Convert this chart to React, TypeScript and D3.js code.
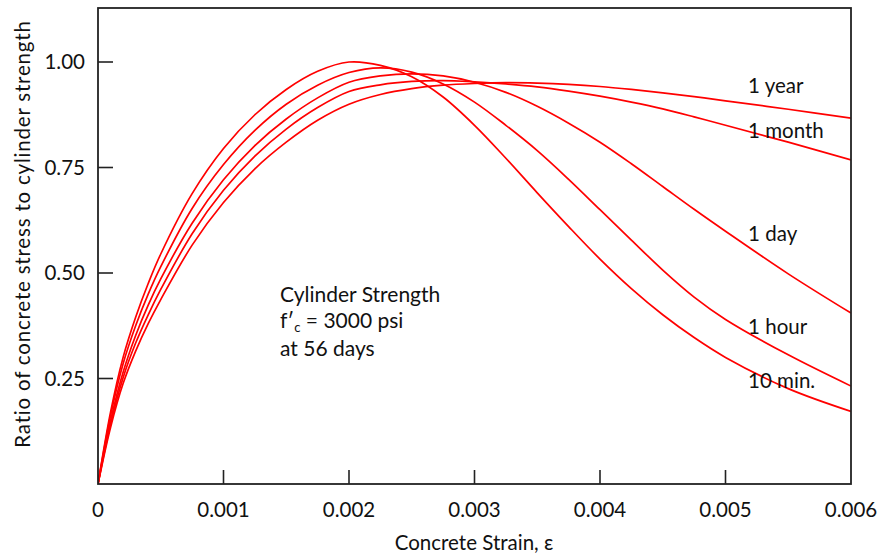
import React from "react";
import * as d3 from "d3";

// Strain values (in/in) at which each curve is sampled
const strain = [
  0, 0.0001, 0.0002, 0.0003, 0.0004, 0.0005, 0.00075, 0.001, 0.00125, 0.0015,
  0.00175, 0.002, 0.00225, 0.0025, 0.00275, 0.003, 0.00325, 0.0035, 0.00375, 0.004,
  0.00425, 0.0045, 0.00475, 0.005, 0.0055, 0.006,
];

// Stress ratio (f / f'c) for each loading duration
const tenMin = [
  0, 0.17, 0.3, 0.395, 0.475, 0.545, 0.688, 0.795, 0.875, 0.935,
  0.978, 1.0, 0.992, 0.965, 0.917, 0.85, 0.772, 0.69, 0.61, 0.533,
  0.463, 0.401, 0.347, 0.3, 0.226, 0.172,
];
const oneHour = [
  0, 0.162, 0.285, 0.375, 0.45, 0.515, 0.653, 0.757, 0.838, 0.9,
  0.945, 0.975, 0.986, 0.976, 0.948, 0.905, 0.85, 0.79, 0.722, 0.65,
  0.578, 0.507, 0.443, 0.39, 0.306, 0.232,
];
const oneDay = [
  0, 0.15, 0.265, 0.352, 0.424, 0.486, 0.618, 0.721, 0.802, 0.865,
  0.915, 0.952, 0.967, 0.972, 0.967, 0.952, 0.928, 0.895, 0.855, 0.81,
  0.759, 0.705, 0.651, 0.599, 0.498, 0.405,
];
const oneMonth = [
  0, 0.142, 0.252, 0.334, 0.401, 0.461, 0.593, 0.696, 0.777, 0.841,
  0.892, 0.93, 0.946, 0.954, 0.956, 0.953, 0.948, 0.941, 0.931, 0.919,
  0.905, 0.889, 0.87, 0.85, 0.81, 0.768,
];
const oneYear = [
  0, 0.134, 0.238, 0.315, 0.38, 0.437, 0.566, 0.667, 0.747, 0.81,
  0.862, 0.9, 0.923, 0.937, 0.945, 0.949, 0.951, 0.95, 0.947, 0.942,
  0.935, 0.927, 0.918, 0.908, 0.888, 0.867,
];

const seriesNames = ["10 min.", "1 hour", "1 day", "1 month", "1 year"];
const seriesValues = [tenMin, oneHour, oneDay, oneMonth, oneYear];

// Where each duration label sits (strain, ratio)
const labelStrain = [0.00518, 0.00518, 0.00518, 0.00518, 0.00518];
const labelRatio = [0.245, 0.372, 0.593, 0.837, 0.945];

const xTicks = [0.001, 0.002, 0.003, 0.004, 0.005];
const xTickLabels = ["0", "0.001", "0.002", "0.003", "0.004", "0.005", "0.006"];
const xLabelValues = [0, 0.001, 0.002, 0.003, 0.004, 0.005, 0.006];
const yTicks = [0.25, 0.5, 0.75, 1.0];
const yTickLabels = ["0.25", "0.50", "0.75", "1.00"];

const W = 878;
const H = 556;
const left = 98;
const right = 851;
const top = 8;
const bottom = 484;

const FONT = "Lato, 'Open Sans', sans-serif";
const FS = 20.5;

export default function App() {
  const x = d3.scaleLinear().domain([0, 0.006]).range([left, right]);
  const y = d3.scaleLinear().domain([0, 1]).range([bottom, 62]);

  const line = d3
    .line<number>()
    .x((_, i) => x(strain[i]))
    .y((d) => y(d))
    .curve(d3.curveCatmullRom.alpha(0.5));

  return (
    <svg
      width={W}
      height={H}
      viewBox={`0 0 ${W} ${H}`}
      style={{ position: "absolute", left: 0, top: 0, display: "block", background: "#fff" }}
      fontFamily={FONT}
    >
      <defs>
        <clipPath id="plotClip">
          <rect x={left} y={top} width={right - left} height={bottom - top} />
        </clipPath>
      </defs>

      {/* curves */}
      <g clipPath="url(#plotClip)">
        {seriesValues.map((vals, i) => (
          <path
            key={seriesNames[i]}
            d={line(vals) || ""}
            fill="none"
            stroke="#ff0000"
            strokeWidth={1.7}
          />
        ))}
      </g>

      {/* frame */}
      <rect
        x={left}
        y={top}
        width={right - left}
        height={bottom - top}
        fill="none"
        stroke="#222"
        strokeWidth={1.8}
      />

      {/* y ticks (inward) */}
      {yTicks.map((t, i) => (
        <g key={`yt${i}`}>
          <line x1={left} x2={left + 15} y1={y(t)} y2={y(t)} stroke="#222" strokeWidth={1.6} />
          <text
            x={85}
            y={y(t)}
            dy="0.36em"
            textAnchor="end"
            fontSize={FS}
            fill="#111"
          >
            {yTickLabels[i]}
          </text>
        </g>
      ))}

      {/* x ticks (inward) */}
      {xTicks.map((t, i) => (
        <line
          key={`xt${i}`}
          x1={x(t)}
          x2={x(t)}
          y1={bottom}
          y2={bottom - 14}
          stroke="#222"
          strokeWidth={1.6}
        />
      ))}
      {xLabelValues.map((t, i) => (
        <text
          key={`xl${i}`}
          x={x(t)}
          y={517}
          textAnchor="middle"
          fontSize={FS}
          fill="#111"
        >
          {xTickLabels[i]}
        </text>
      ))}

      {/* axis titles */}
      <text x={474} y={550} textAnchor="middle" fontSize={FS} fill="#111">
        Concrete Strain, ε
      </text>
      <text
        transform={`translate(30, 234) rotate(-90)`}
        textAnchor="middle"
        fontSize={FS}
        letterSpacing={0.8}
        fill="#111"
      >
        Ratio of concrete stress to cylinder strength
      </text>

      {/* duration labels */}
      {seriesNames.map((name, i) => (
        <text
          key={`lab${i}`}
          x={x(labelStrain[i])}
          y={y(labelRatio[i])}
          dy="0.36em"
          fontSize={FS}
          fill="#111"
        >
          {name}
        </text>
      ))}

      {/* note */}
      <g fontSize={21} fill="#111">
        <text x={280} y={302}>Cylinder Strength</text>
        <text x={280} y={328}>
          f′<tspan fontSize={13} dy={4}>c</tspan>
          <tspan dy={-4}> = 3000 psi</tspan>
        </text>
        <text x={280} y={356}>at 56 days</text>
      </g>
    </svg>
  );
}
